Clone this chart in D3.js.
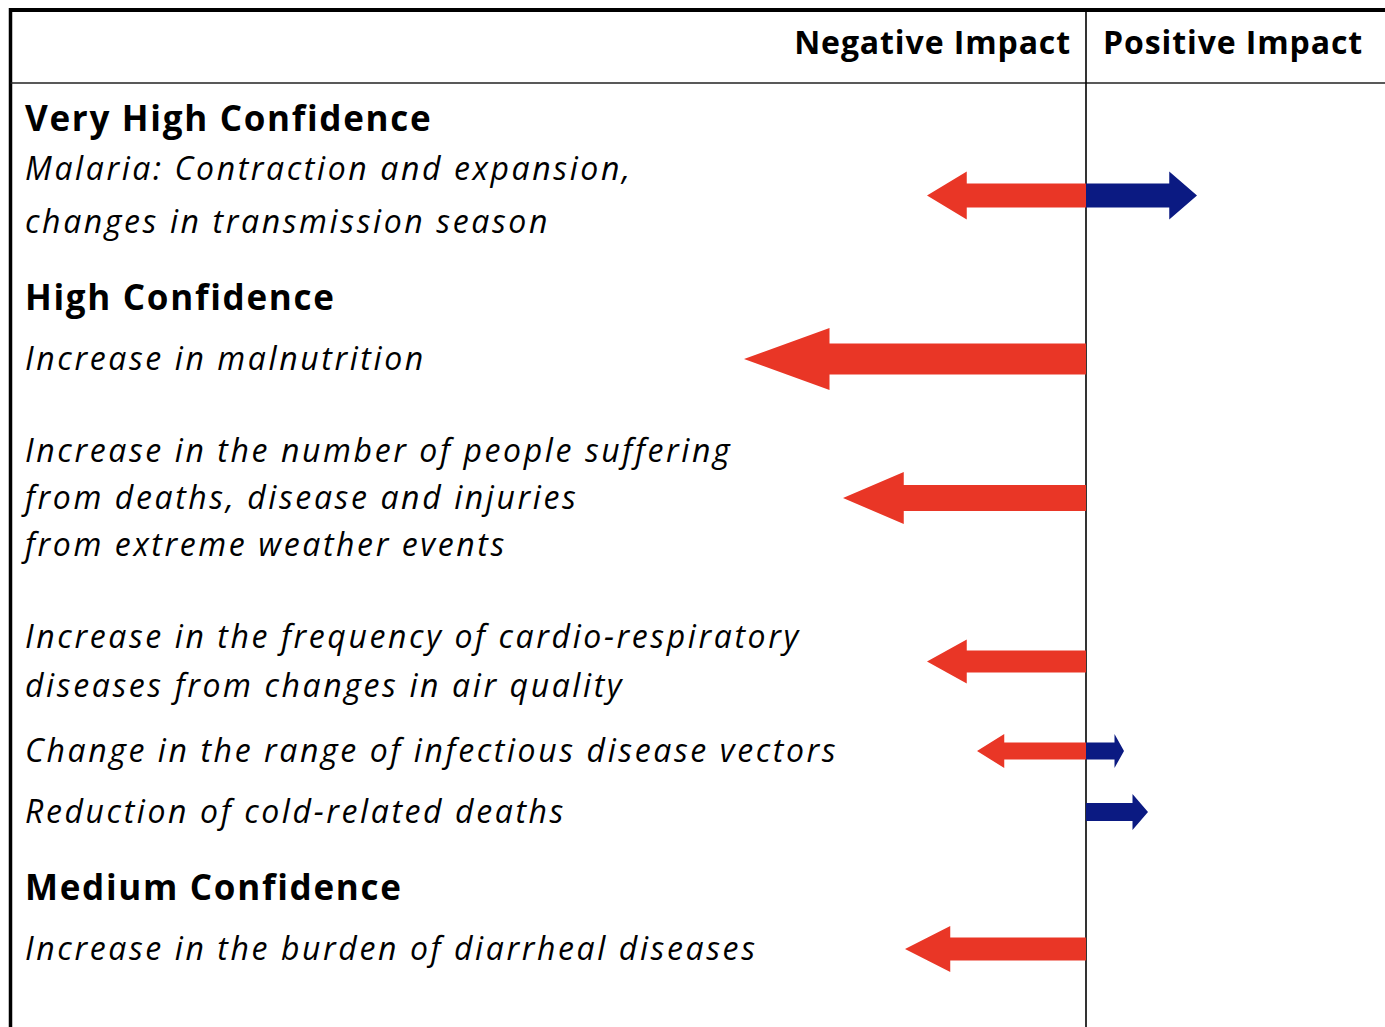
<!DOCTYPE html>
<html>
<head>
<meta charset="utf-8">
<script src="https://cdn.jsdelivr.net/npm/d3@7"></script>
<style>
  body { margin: 0; background: #fff; }
  svg text { font-family: "Open Sans", "Noto Sans", sans-serif; fill: #000; }
  .colHead { font-weight: 700; font-size: 32px; letter-spacing: 0.9px; }
  .groupHead { font-weight: 700; font-size: 35px; letter-spacing: 1.7px; }
  .impact { font-style: italic; font-size: 32px; letter-spacing: 2.6px; }
</style>
</head>
<body>
<script>
(function(){

//column headings
var columnLabels = ["Negative Impact", "Positive Impact"];

//confidence groups
var groupLabels = ["Very High Confidence", "High Confidence", "Medium Confidence"];

//impacts, one entry per arrow row
var impactLabels = [
    ["Malaria: Contraction and expansion,", "changes in transmission season"],
    ["Increase in malnutrition"],
    ["Increase in the number of people suffering", "from deaths, disease and injuries", "from extreme weather events"],
    ["Increase in the frequency of cardio-respiratory", "diseases from changes in air quality"],
    ["Change in the range of infectious disease vectors"],
    ["Reduction of cold-related deaths"],
    ["Increase in the burden of diarrheal diseases"]
];
var impactGroup = [0, 1, 1, 1, 1, 1, 2];

//arrow extent (arbitrary impact units) and arrow weight
var negativeImpact = [-1.59, -3.42, -2.43, -1.59, -1.09, 0, -1.81];
var positiveImpact = [1.11, 0, 0, 0, 0.38, 0.62, 0];
var arrowWeight = [2.4, 3.1, 2.6, 2.2, 1.7, 1.8, 2.3];

//page frame
var width = 1385,
    height = 1027,
    frameLeft = 10.5,
    frameTop = 10,
    headerLine = 83,
    textLeft = 25,
    zeroX = 1086;

//text baselines for the left column (layout only)
var groupBaseline = [131, 310, 900];
var firstLineBaseline = [180, 370, 462, 648, 762, 823, 960];
var lineSpacing = [53, 47, 47, 49, 47, 47, 47];

var svg = d3.select("body")
    .append("svg")
    .attr("width", width)
    .attr("height", height);

//impact scale: 0 sits on the divider
var xScale = d3.scaleLinear()
    .domain([0, 1])
    .range([zeroX, zeroX + 100]);

//arrow weight -> shaft thickness in px
var wScale = d3.scaleLinear()
    .domain([0, 1])
    .range([0, 10]);

//frame lines
svg.append("line")
    .attr("x1", frameLeft).attr("x2", width)
    .attr("y1", frameTop).attr("y2", frameTop)
    .attr("stroke", "#000").attr("stroke-width", 4);

svg.append("line")
    .attr("x1", frameLeft).attr("x2", frameLeft)
    .attr("y1", frameTop - 2).attr("y2", height)
    .attr("stroke", "#000").attr("stroke-width", 3.5);

svg.append("line")
    .attr("x1", frameLeft).attr("x2", width)
    .attr("y1", headerLine).attr("y2", headerLine)
    .attr("stroke", "#222").attr("stroke-width", 1.6);

svg.append("line")
    .attr("x1", zeroX).attr("x2", zeroX)
    .attr("y1", frameTop).attr("y2", height)
    .attr("stroke", "#000").attr("stroke-width", 1.6);

//column headings
svg.append("text")
    .attr("class", "colHead")
    .attr("x", zeroX - 15)
    .attr("y", 54)
    .attr("text-anchor", "end")
    .text(columnLabels[0]);

svg.append("text")
    .attr("class", "colHead")
    .attr("x", zeroX + 17)
    .attr("y", 54)
    .text(columnLabels[1]);

//group headings
svg.selectAll(".groupHead")
    .data(groupLabels)
    .enter()
    .append("text")
    .attr("class", "groupHead")
    .attr("x", textLeft)
    .attr("y", function(d, i){ return groupBaseline[i]; })
    .text(function(d){ return d; });

//impact labels
var rows = svg.selectAll(".row")
    .data(impactLabels)
    .enter()
    .append("g")
    .attr("class", "row");

rows.append("text")
    .attr("class", "impact")
    .attr("x", textLeft)
    .attr("y", function(d, i){ return firstLineBaseline[i]; })
    .each(function(lines, i){
        d3.select(this).selectAll("tspan")
            .data(lines)
            .enter()
            .append("tspan")
            .attr("x", textLeft)
            .attr("dy", function(d, j){ return j === 0 ? 0 : lineSpacing[i]; })
            .text(function(d){ return d; });
    });

//row centre for the arrow
function rowY(i){
    var n = impactLabels[i].length;
    return firstLineBaseline[i] + (n - 1) * lineSpacing[i] / 2 - 11;
}

//arrow polygon from the zero line out to value v
function arrowPath(v, w, cy){
    var x0 = xScale(0),
        tip = xScale(v),
        len = tip - x0,
        head = x0 + len * 0.75,
        t = wScale(w) / 2,
        p = d3.path();
    p.moveTo(x0, cy - t);
    p.lineTo(head, cy - t);
    p.lineTo(head, cy - 2 * t);
    p.lineTo(tip, cy);
    p.lineTo(head, cy + 2 * t);
    p.lineTo(head, cy + t);
    p.lineTo(x0, cy + t);
    p.closePath();
    return p.toString();
}

rows.filter(function(d, i){ return negativeImpact[i] < 0; })
    .append("path")
    .attr("class", "neg")
    .attr("d", function(d){
        var i = impactLabels.indexOf(d);
        return arrowPath(negativeImpact[i], arrowWeight[i], rowY(i));
    })
    .attr("fill", "#E93626");

rows.filter(function(d, i){ return positiveImpact[i] > 0; })
    .append("path")
    .attr("class", "pos")
    .attr("d", function(d){
        var i = impactLabels.indexOf(d);
        return arrowPath(positiveImpact[i], arrowWeight[i], rowY(i));
    })
    .attr("fill", "#0B1A82");

})();
</script>
</body>
</html>
